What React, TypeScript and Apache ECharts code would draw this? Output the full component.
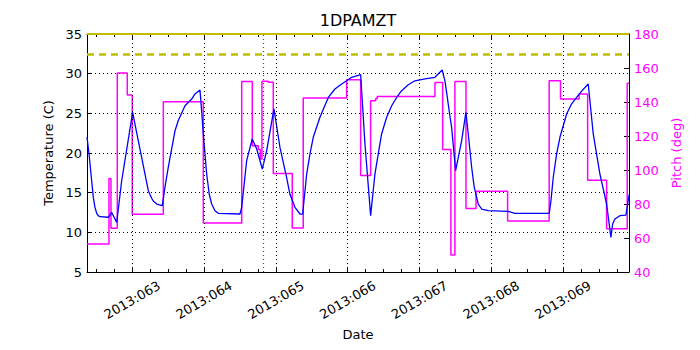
import React, { useEffect, useRef } from 'react';
import * as echarts from 'echarts';

const xMin = 62.369;
const xMax = 69.919;
const dayTicks = [63, 64, 65, 66, 67, 68, 69];
const dayLabels = ['2013:063', '2013:064', '2013:065', '2013:066', '2013:067', '2013:068', '2013:069'];
const quarterTicks = [62.5, 62.75, 63.25, 63.5, 63.75, 64.25, 64.5, 64.75, 65.25, 65.5, 65.75, 66.25, 66.5, 66.75, 67.25, 67.5, 67.75, 68.25, 68.5, 68.75, 69.25, 69.5, 69.75];

const tempTimes = [
  62.369, 62.397, 62.434, 62.457, 62.480, 62.504, 62.526, 62.550, 62.666, 62.713, 62.783, 62.852,
  63.005, 63.083, 63.177, 63.223, 63.270, 63.292, 63.340, 63.418, 63.455, 63.501, 63.525, 63.595,
  63.641, 63.734, 63.827, 63.873, 63.943, 63.966, 63.989, 64.036, 64.072, 64.106, 64.152, 64.198,
  64.500, 64.524, 64.593, 64.671, 64.733, 64.811, 64.872, 64.973, 65.057, 65.150, 65.196, 65.266,
  65.336, 65.373, 65.429, 65.475, 65.521, 65.614, 65.730, 65.823, 65.916, 65.986, 66.056, 66.181,
  66.241, 66.320, 66.380, 66.426, 66.473, 66.543, 66.613, 66.682, 66.752, 66.844, 66.937, 67.077,
  67.216, 67.285, 67.317, 67.355, 67.379, 67.425, 67.448, 67.471, 67.504, 67.588, 67.647, 67.680,
  67.727, 67.763, 67.797, 67.819, 67.866, 67.958, 68.237, 68.330, 68.808, 68.832, 68.864, 68.911,
  68.957, 69.050, 69.120, 69.189, 69.259, 69.351, 69.421, 69.514, 69.607, 69.667, 69.691, 69.723,
  69.792, 69.876, 69.922,
];
const tempValues = [
  22.0, 19.9, 16.5, 14.4, 13.15, 12.4, 12.1, 11.97, 11.9, 12.5, 11.26, 16.5,
  25.13, 21.55, 17.35, 15.25, 14.3, 13.95, 13.57, 13.36, 15.7, 18.2, 19.4, 22.8,
  24.1, 25.96, 26.8, 27.44, 27.94, 25.3, 22.4, 17.35, 14.8, 13.57, 12.73, 12.4,
  12.31, 13.15, 19.03, 21.76, 20.5, 17.98, 20.3, 25.55, 20.7, 16.9, 14.8, 13.15,
  12.31, 12.3, 17.35, 19.9, 21.98, 24.5, 27.0, 28.07, 28.7, 29.1, 29.54, 29.87,
  21.13, 12.1, 17.35, 19.9, 22.4, 24.5, 25.96, 27.0, 27.85, 28.6, 29.1, 29.33,
  29.54, 30.17, 30.46, 29.1, 27.6, 24.6, 23.24, 21.0, 17.77, 21.55, 25.13, 22.4,
  18.2, 15.7, 14.4, 13.57, 12.94, 12.73, 12.65, 12.4, 12.4, 14.0, 16.94, 19.9,
  21.98, 24.92, 26.2, 27.0, 27.8, 28.7, 22.4, 17.35, 13.57, 9.37, 11.05, 11.68,
  12.1, 12.18, 14.8,
];

const pitchTimes = [62.369, 62.675, 62.703, 62.791, 62.930, 62.999, 63.432, 63.989, 64.524, 64.671, 64.755, 64.783, 64.806, 64.894, 64.964, 65.228, 65.381, 65.986, 66.181, 66.320, 66.390, 66.412, 67.216, 67.323, 67.438, 67.494, 67.648, 67.788, 68.228, 68.807, 68.965, 69.224, 69.343, 69.607, 69.894, 69.919];
const pitchValues = [56.5, 95, 65.7, 157, 144.1, 74, 140.2, 68.8, 152, 114.3, 112, 106.5, 152.2, 151.6, 98, 65.9, 142.4, 153.1, 96.7, 140.8, 142, 143.3, 151.4, 112, 50, 152, 77.3, 87.5, 70, 152.5, 141.8, 144.7, 93.9, 65.5, 151, 151];

const upperLimit = 35;
const planningLimit = 32.5;
const markerTime = 64.825;

const FONT = 'DejaVu Sans';

export default function App() {
  const ref = useRef<HTMLDivElement>(null);
  useEffect(() => {
    if (!ref.current) return;
    const chart = echarts.init(ref.current, undefined, { renderer: 'svg' });
    const baseX = { type: 'value', min: xMin, max: xMax, splitLine: { show: false } };
    const option: any = {
      animation: false,
      backgroundColor: '#ffffff',
      textStyle: { fontFamily: FONT },
      title: {
        text: '1DPAMZT',
        left: 358,
        top: 12,
        padding: 0,
        textAlign: 'center',
        textStyle: { fontFamily: FONT, fontSize: 16, fontWeight: 'normal', color: '#000' },
      },
      grid: { left: 87, right: 71, top: 34, bottom: 78 },
      xAxis: [
        {
          ...baseX,
          position: 'bottom',
          name: 'Date',
          nameLocation: 'middle',
          nameGap: 51,
          nameTextStyle: { fontFamily: FONT, fontSize: 13, color: '#000' },
          axisLine: { show: true, lineStyle: { color: '#000', width: 1 } },
          axisTick: { show: true, inside: true, length: 5, customValues: dayTicks, lineStyle: { color: '#000' } },
          axisLabel: {
            show: true,
            customValues: dayTicks,
            formatter: (v: number) => dayLabels[dayTicks.indexOf(Math.round(v))] ?? '',
            rotate: 30,
            align: 'center',
            verticalAlign: 'middle',
            margin: 28,
            fontFamily: FONT,
            fontSize: 13,
            color: '#000',
          },
        },
        {
          ...baseX,
          position: 'bottom',
          axisLine: { show: false },
          axisTick: { show: true, inside: true, length: 3, customValues: quarterTicks, lineStyle: { color: '#000' } },
          axisLabel: { show: false },
        },
        {
          ...baseX,
          position: 'top',
          axisLine: { show: true, lineStyle: { color: '#000', width: 1 } },
          axisTick: { show: true, inside: true, length: 5, customValues: dayTicks, lineStyle: { color: '#000' } },
          axisLabel: { show: false },
        },
        {
          ...baseX,
          position: 'top',
          axisLine: { show: false },
          axisTick: { show: true, inside: true, length: 3, customValues: quarterTicks, lineStyle: { color: '#000' } },
          axisLabel: { show: false },
        },
      ],
      yAxis: [
        {
          type: 'value',
          position: 'left',
          min: 5,
          max: 35,
          interval: 5,
          name: 'Temperature (C)',
          nameLocation: 'middle',
          nameGap: 30,
          nameTextStyle: { fontFamily: FONT, fontSize: 13, color: '#000' },
          axisLine: { show: true, lineStyle: { color: '#000', width: 1 } },
          axisTick: { show: true, inside: true, length: 5, lineStyle: { color: '#000' } },
          axisLabel: { fontFamily: FONT, fontSize: 13, color: '#000', margin: 5 },
          splitLine: { show: true, lineStyle: { color: '#000', type: [1, 3], width: 1 } },
        },
        {
          type: 'value',
          position: 'right',
          min: 40,
          max: 180,
          interval: 20,
          name: 'Pitch (deg)',
          nameLocation: 'middle',
          nameGap: 35,
          nameTextStyle: { fontFamily: FONT, fontSize: 13, color: '#ff00ff' },
          axisLine: { show: true, lineStyle: { color: '#000', width: 1 } },
          axisTick: { show: true, inside: true, length: 5, lineStyle: { color: '#000' } },
          axisLabel: { fontFamily: FONT, fontSize: 13, color: '#ff00ff', margin: 5 },
          splitLine: { show: false },
        },
      ],
      series: [
        {
          name: 'Grid',
          type: 'line',
          xAxisIndex: 0,
          yAxisIndex: 0,
          data: [],
          silent: true,
          z: 1,
          markLine: {
            silent: true,
            symbol: ['none', 'none'],
            label: { show: false },
            lineStyle: { color: '#000', type: [1, 3], width: 1 },
            data: dayTicks.map((d) => ({ xAxis: d })),
          },
        },
        {
          name: '1DPAMZT',
          type: 'line',
          xAxisIndex: 0,
          yAxisIndex: 0,
          data: tempTimes.map((t, i) => [t, tempValues[i]]),
          showSymbol: false,
          symbol: 'none',
          clip: true,
          lineStyle: { color: '#0000ff', width: 1.3 },
          z: 4,
          markLine: {
            silent: true,
            symbol: ['none', 'none'],
            label: { show: false },
            data: [
              { yAxis: upperLimit, lineStyle: { color: '#bfbf00', type: 'solid', width: 2 } },
              { yAxis: planningLimit, lineStyle: { color: '#bfbf00', type: [7, 5], width: 2.5 } },
              { xAxis: markerTime, lineStyle: { color: '#008000', type: [1, 3], width: 1.2 } },
            ],
          },
        },
        {
          name: 'Pitch',
          type: 'line',
          xAxisIndex: 0,
          yAxisIndex: 1,
          step: 'end',
          data: pitchTimes.map((t, i) => [t, pitchValues[i]]),
          showSymbol: false,
          symbol: 'none',
          clip: true,
          lineStyle: { color: '#ff00ff', width: 1.5 },
          z: 3,
        },
      ],
    };
    chart.setOption(option);
    return () => chart.dispose();
  }, []);
  return (
    <div
      ref={ref}
      style={{ position: 'fixed', left: 0, top: 0, width: 700, height: 350, background: '#fff' }}
    />
  );
}
